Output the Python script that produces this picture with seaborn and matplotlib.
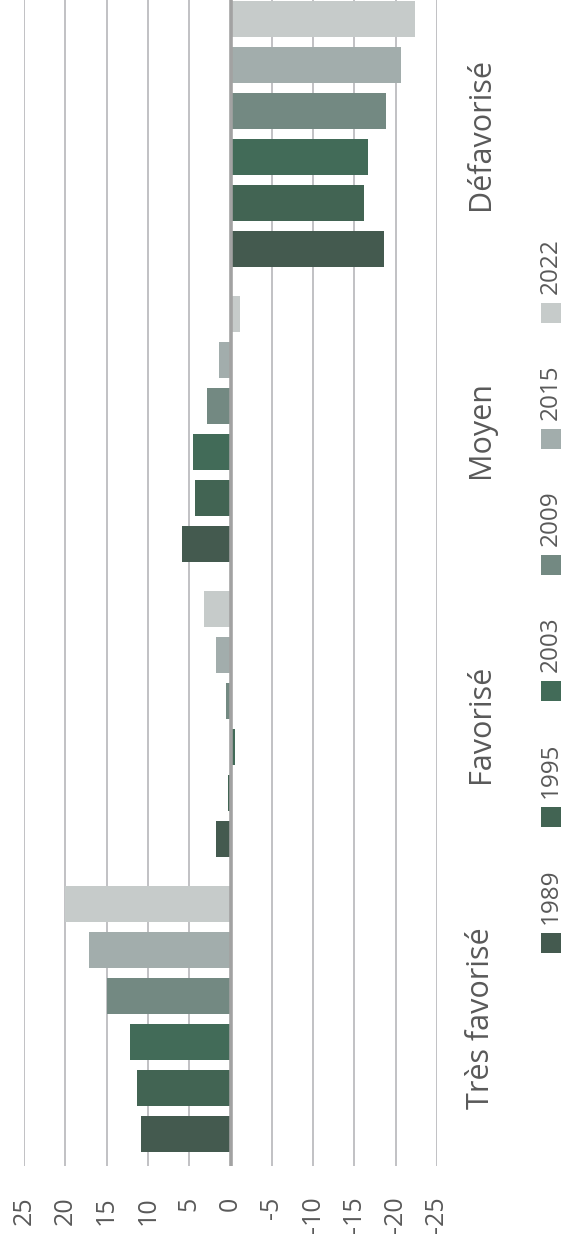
import pandas as pd
import matplotlib
matplotlib.use("Agg")
import matplotlib.pyplot as plt
from matplotlib.patches import Rectangle
import seaborn as sns

# data (values in points)
categories = ['Très favorisé', 'Favorisé', 'Moyen', 'Défavorisé']
years = ['1989', '1995', '2003', '2009', '2015', '2022']
v1989 = [10.8, 1.8, 5.9, -18.6]
v1995 = [11.3, 0.35, 4.3, -16.2]
v2003 = [12.2, -0.6, 4.6, -16.6]
v2009 = [15.0, 0.5, 2.9, -18.8]
v2015 = [17.1, 1.8, 1.4, -20.6]
v2022 = [20.0, 3.2, -1.1, -22.3]
tick_values = [25, 20, 15, 10, 5, 0, -5, -10, -15, -20, -25]
tick_labels = ['25', '20', '15', '10', '5', '0', '-5', '-10', '-15', '-20', '-25']
colors = ['#445a4f', '#426453', '#426b58', '#738982', '#a2adac', '#c6cbca']

series = [v1989, v1995, v2003, v2009, v2015, v2022]
rows = []
for y, vals in zip(years, series):
    for c, v in zip(categories, vals):
        rows.append({'category': c, 'year': y, 'value': v})
df = pd.DataFrame(rows)

sns.set_style("white")
plt.rcParams['font.family'] = ['Open Sans', 'DejaVu Sans']
text_color = '#595959'

W, H = 561, 1250
fig = plt.figure(figsize=(W / 100, H / 100), dpi=100)
ax = fig.add_axes([24 / W, 84 / H, 413 / W, 1179 / H])

sns.barplot(data=df, x='value', y='category', hue='year', orient='h',
            order=categories, hue_order=years, palette=colors,
            width=0.936, gap=0.22, saturation=1, linewidth=0,
            legend=False, ax=ax)

ax.set_xlim(25, -25)
ax.set_ylim(-0.5, 3.5)
ax.set_xlabel('')
ax.set_ylabel('')
for s in ax.spines.values():
    s.set_visible(False)

# gridlines
ax.set_xticks(tick_values)
ax.set_xticklabels(tick_labels, rotation=90, color=text_color, fontsize=18)
ax.xaxis.grid(True, color='#b6b6ba', linewidth=1.2)
ax.yaxis.grid(False)
ax.set_axisbelow(True)
ax.axvline(0, color='#a2a2a2', linewidth=2.6, zorder=3)
ax.tick_params(axis='x', length=0, pad=22)

# category labels on the right side
ax.yaxis.tick_right()
ax.set_yticks(range(len(categories)))
ax.set_yticklabels(categories, rotation=90, va='center', color=text_color, fontsize=22)
ax.tick_params(axis='y', length=0, pad=21)

# legend, drawn rotated along the right edge
x_c = 551
sq = 20
y_first = 943
pitch = 126
for i, (y, col) in enumerate(zip(years, colors)):
    cy = y_first - i * pitch
    fig.add_artist(Rectangle(((x_c - sq / 2) / W, 1 - (cy + sq / 2) / H), sq / W, sq / H,
                             transform=fig.transFigure, facecolor=col, edgecolor='none'))
    fig.text(x_c / W, 1 - (cy - sq / 2 - 9) / H, y, rotation=90, ha='center', va='bottom',
             color=text_color, fontsize=17.5)

fig.savefig('out.png', dpi=100)
